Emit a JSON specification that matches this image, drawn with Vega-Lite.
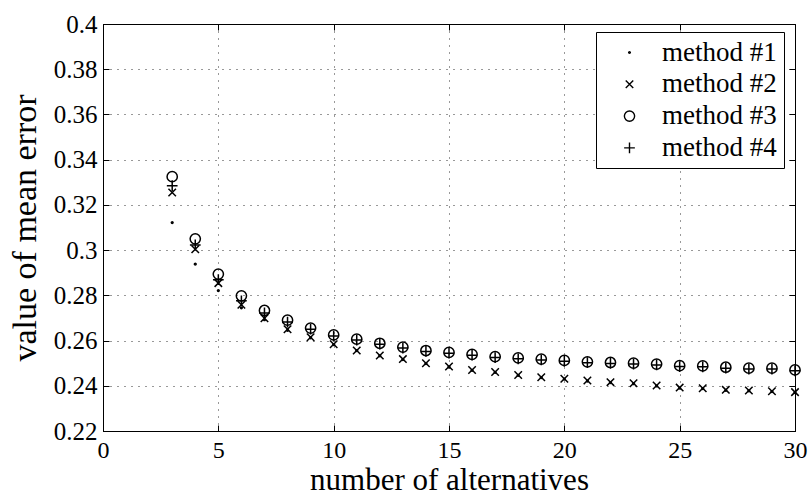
{
  "$schema": "https://vega.github.io/schema/vega-lite/v6.json",
  "width": 692,
  "height": 407,
  "autosize": {"type": "none"},
  "padding": {"left": 103, "top": 24, "right": 16, "bottom": 65},
  "background": "white",
  "config": {
    "font": "Liberation Serif",
    "view": {"stroke": "black", "strokeWidth": 1},
    "style": {"guide-label": {"font": "Liberation Serif"}, "guide-title": {"font": "Liberation Serif"}},
    "legend": {"labelFont": "Liberation Serif"},
    "axis": {
      "domainColor": "black", "domainWidth": 1,
      "tickColor": "black", "tickWidth": 1, "tickSize": -6,
      "labelColor": "black", "titleColor": "black",
      "labelFont": "Liberation Serif", "titleFont": "Liberation Serif",
      "labelFontSize": 25, "titleFontSize": 33, "titleFontWeight": "normal",
      "gridColor": "black", "gridDash": [1, 6], "gridOpacity": 0.8, "gridWidth": 1
    }
  },
  "data": {"values": [
    {"n":3,"method":"method #1","err":0.3122},{"n":3,"method":"method #2","err":0.3255},{"n":3,"method":"method #3","err":0.3325},{"n":3,"method":"method #4","err":0.3285},
    {"n":4,"method":"method #1","err":0.2938},{"n":4,"method":"method #2","err":0.3004},{"n":4,"method":"method #3","err":0.3050},{"n":4,"method":"method #4","err":0.3023},
    {"n":5,"method":"method #1","err":0.2821},{"n":5,"method":"method #2","err":0.2854},{"n":5,"method":"method #3","err":0.2894},{"n":5,"method":"method #4","err":0.2869},
    {"n":6,"method":"method #1","err":0.2745},{"n":6,"method":"method #2","err":0.2758},{"n":6,"method":"method #3","err":0.2798},{"n":6,"method":"method #4","err":0.2776},
    {"n":7,"method":"method #1","err":0.2692},{"n":7,"method":"method #2","err":0.2699},{"n":7,"method":"method #3","err":0.2733},{"n":7,"method":"method #4","err":0.2722},
    {"n":8,"method":"method #1","err":0.2645},{"n":8,"method":"method #2","err":0.2650},{"n":8,"method":"method #3","err":0.2690},{"n":8,"method":"method #4","err":0.2682},
    {"n":9,"method":"method #1","err":0.2612},{"n":9,"method":"method #2","err":0.2615},{"n":9,"method":"method #3","err":0.2655},{"n":9,"method":"method #4","err":0.2650},
    {"n":10,"method":"method #1","err":0.2582},{"n":10,"method":"method #2","err":0.2584},{"n":10,"method":"method #3","err":0.2625},{"n":10,"method":"method #4","err":0.2620},
    {"n":11,"method":"method #1","err":0.2555},{"n":11,"method":"method #2","err":0.2556},{"n":11,"method":"method #3","err":0.2606},{"n":11,"method":"method #4","err":0.2602},
    {"n":12,"method":"method #1","err":0.2532},{"n":12,"method":"method #2","err":0.2534},{"n":12,"method":"method #3","err":0.2588},{"n":12,"method":"method #4","err":0.2584},
    {"n":13,"method":"method #1","err":0.2516},{"n":13,"method":"method #2","err":0.2518},{"n":13,"method":"method #3","err":0.2571},{"n":13,"method":"method #4","err":0.2567},
    {"n":14,"method":"method #1","err":0.2498},{"n":14,"method":"method #2","err":0.2500},{"n":14,"method":"method #3","err":0.2556},{"n":14,"method":"method #4","err":0.2552},
    {"n":15,"method":"method #1","err":0.2483},{"n":15,"method":"method #2","err":0.2485},{"n":15,"method":"method #3","err":0.2548},{"n":15,"method":"method #4","err":0.2544},
    {"n":16,"method":"method #1","err":0.2468},{"n":16,"method":"method #2","err":0.2470},{"n":16,"method":"method #3","err":0.2539},{"n":16,"method":"method #4","err":0.2535},
    {"n":17,"method":"method #1","err":0.2459},{"n":17,"method":"method #2","err":0.2461},{"n":17,"method":"method #3","err":0.2529},{"n":17,"method":"method #4","err":0.2525},
    {"n":18,"method":"method #1","err":0.2446},{"n":18,"method":"method #2","err":0.2448},{"n":18,"method":"method #3","err":0.2523},{"n":18,"method":"method #4","err":0.2519},
    {"n":19,"method":"method #1","err":0.2436},{"n":19,"method":"method #2","err":0.2438},{"n":19,"method":"method #3","err":0.2518},{"n":19,"method":"method #4","err":0.2514},
    {"n":20,"method":"method #1","err":0.2429},{"n":20,"method":"method #2","err":0.2431},{"n":20,"method":"method #3","err":0.2512},{"n":20,"method":"method #4","err":0.2508},
    {"n":21,"method":"method #1","err":0.2421},{"n":21,"method":"method #2","err":0.2423},{"n":21,"method":"method #3","err":0.2506},{"n":21,"method":"method #4","err":0.2502},
    {"n":22,"method":"method #1","err":0.2414},{"n":22,"method":"method #2","err":0.2416},{"n":22,"method":"method #3","err":0.2503},{"n":22,"method":"method #4","err":0.2499},
    {"n":23,"method":"method #1","err":0.2409},{"n":23,"method":"method #2","err":0.2411},{"n":23,"method":"method #3","err":0.2500},{"n":23,"method":"method #4","err":0.2496},
    {"n":24,"method":"method #1","err":0.2399},{"n":24,"method":"method #2","err":0.2401},{"n":24,"method":"method #3","err":0.2496},{"n":24,"method":"method #4","err":0.2492},
    {"n":25,"method":"method #1","err":0.2390},{"n":25,"method":"method #2","err":0.2392},{"n":25,"method":"method #3","err":0.2489},{"n":25,"method":"method #4","err":0.2485},
    {"n":26,"method":"method #1","err":0.2387},{"n":26,"method":"method #2","err":0.2389},{"n":26,"method":"method #3","err":0.2488},{"n":26,"method":"method #4","err":0.2484},
    {"n":27,"method":"method #1","err":0.2380},{"n":27,"method":"method #2","err":0.2382},{"n":27,"method":"method #3","err":0.2482},{"n":27,"method":"method #4","err":0.2478},
    {"n":28,"method":"method #1","err":0.2377},{"n":28,"method":"method #2","err":0.2379},{"n":28,"method":"method #3","err":0.2478},{"n":28,"method":"method #4","err":0.2474},
    {"n":29,"method":"method #1","err":0.2374},{"n":29,"method":"method #2","err":0.2376},{"n":29,"method":"method #3","err":0.2478},{"n":29,"method":"method #4","err":0.2474},
    {"n":30,"method":"method #1","err":0.2370},{"n":30,"method":"method #2","err":0.2372},{"n":30,"method":"method #3","err":0.2470},{"n":30,"method":"method #4","err":0.2466}
  ]},
  "layer": [
    {
      "mark": {"type": "point", "filled": false, "stroke": "black", "strokeWidth": 1.5, "opacity": 1, "clip": false},
      "encoding": {
        "x": {"field": "n", "type": "quantitative",
          "scale": {"domain": [0, 30], "nice": false},
          "axis": {"values": [0, 5, 10, 15, 20, 25, 30], "title": "number of alternatives", "grid": true,
                   "labelFont": "Liberation Serif", "titleFont": "Liberation Serif", "labelFontSize": 24, "titleFontSize": 31,
                   "labelPadding": 13, "titleBaseline": "alphabetic", "titleY": 58.5, "labelFlush": false}},
        "y": {"field": "err", "type": "quantitative",
          "scale": {"domain": [0.22, 0.4], "nice": false, "zero": false},
          "axis": {"values": [0.22, 0.24, 0.26, 0.28, 0.3, 0.32, 0.34, 0.36, 0.38, 0.4], "format": "~g",
                   "labelFont": "Liberation Serif", "titleFont": "Liberation Serif", "titleFontSize": 34,
                   "title": "value of mean error", "grid": true, "labelPadding": 12, "titlePadding": 11, "labelFlush": false}},
        "shape": {"field": "method", "type": "nominal",
          "scale": {"domain": ["method #1", "method #2", "method #3", "method #4"],
                    "range": ["circle", "M-1,-1L1,1M-1,1L1,-1", "circle", "M-1,0L1,0M0,-1L0,1"]},
          "legend": {"title": null, "orient": "none", "legendX": 493, "legendY": 8,
                     "strokeColor": "black", "fillColor": "white", "padding": 7,
                     "labelFont": "Liberation Serif", "labelFontSize": 27, "labelColor": "black",
                     "symbolStrokeColor": "black", "symbolFillColor": "transparent", "symbolStrokeWidth": 1.4,
                     "symbolOffset": 13, "labelOffset": 19, "rowPadding": 3.8}},
        "size": {"field": "method", "type": "nominal",
          "scale": {"type": "ordinal", "domain": ["method #1", "method #2", "method #3", "method #4"], "range": [3, 56, 105, 115]},
          "legend": {"title": null, "orient": "none", "legendX": 493, "legendY": 8,
                     "strokeColor": "black", "fillColor": "white", "padding": 7,
                     "labelFont": "Liberation Serif", "labelFontSize": 27, "labelColor": "black",
                     "symbolStrokeColor": "black", "symbolFillColor": "transparent", "symbolStrokeWidth": 1.4,
                     "symbolOffset": 13, "labelOffset": 19, "rowPadding": 3.8}}
      }
    },
    {
      "mark": {"type": "point", "opacity": 0},
      "encoding": {
        "x": {"field": "n", "type": "quantitative",
          "axis": {"orient": "top", "values": [0, 5, 10, 15, 20, 25, 30], "labels": false, "title": null, "grid": false, "domain": false}},
        "y": {"field": "err", "type": "quantitative",
          "axis": {"orient": "right", "values": [0.22, 0.24, 0.26, 0.28, 0.3, 0.32, 0.34, 0.36, 0.38, 0.4], "labels": false, "title": null, "grid": false, "domain": false}}
      }
    }
  ],
  "resolve": {"axis": {"x": "independent", "y": "independent"}}
}
